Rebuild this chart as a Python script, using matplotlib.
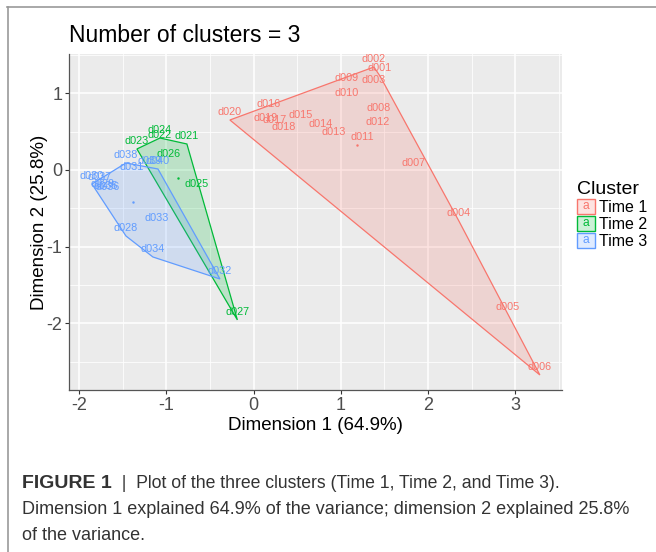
import numpy as np
import matplotlib
matplotlib.use('Agg')
from matplotlib import pyplot as plt
from matplotlib.legend_handler import HandlerBase
from matplotlib.lines import Line2D
from matplotlib.patches import Polygon, Rectangle
from matplotlib.text import Text

plt.rcParams['font.family'] = ['Liberation Sans', 'DejaVu Sans']

# cluster coordinates
time1_names = ['d001', 'd002', 'd003', 'd004', 'd005', 'd006', 'd007', 'd008', 'd009', 'd010',
               'd011', 'd012', 'd013', 'd014', 'd015', 'd016', 'd017', 'd018', 'd019', 'd020']
time1_x = [1.450, 1.381, 1.381, 2.355, 2.917, 3.284, 1.839, 1.438, 1.071, 1.071,
           1.243, 1.427, 0.922, 0.773, 0.544, 0.177, 0.245, 0.349, 0.142, -0.271]
time1_y = [1.226, 1.343, 1.070, -0.665, -1.891, -2.674, -0.013, 0.704, 1.096, 0.900,
           0.326, 0.522, 0.391, 0.496, 0.613, 0.756, 0.548, 0.456, 0.574, 0.652]

time2_names = ['d021', 'd022', 'd023', 'd024', 'd025', 'd026', 'd027']
time2_x = [-0.764, -1.073, -1.337, -1.073, -0.649, -0.970, -0.185]
time2_y = [0.339, 0.352, 0.274, 0.417, -0.287, 0.104, -1.956]

time3_names = ['d028', 'd029', 'd030', 'd031', 'd032', 'd033', 'd034',
               'd035', 'd036', 'd037', 'd038', 'd039', 'd040']
time3_x = [-1.463, -1.726, -1.853, -1.400, -0.385, -1.108, -1.154,
           -1.693, -1.670, -1.761, -1.463, -1.188, -1.096]
time3_y = [-0.861, -0.290, -0.183, -0.065, -1.422, -0.730, -1.135,
           -0.320, -0.330, -0.196, 0.091, 0.013, 0.013]

cluster_labels = ['Time 1', 'Time 2', 'Time 3']
cluster_colours = ['#F8766D', '#00BA38', '#619CFF']

x_ticks = [-2, -1, 0, 1, 2, 3]
y_ticks = [-2, -1, 0, 1]


def convex_hull(x, y):
    pts = sorted(set(zip(x, y)))

    def cross(o, a, b):
        return (a[0] - o[0]) * (b[1] - o[1]) - (a[1] - o[1]) * (b[0] - o[0])

    lower, upper = [], []
    for p in pts:
        while len(lower) >= 2 and cross(lower[-2], lower[-1], p) <= 0:
            lower.pop()
        lower.append(p)
    for p in reversed(pts):
        while len(upper) >= 2 and cross(upper[-2], upper[-1], p) <= 0:
            upper.pop()
        upper.append(p)
    return np.array(lower[:-1] + upper[:-1])


class LetterKey(HandlerBase):
    def create_artists(self, legend, orig_handle, xdescent, ydescent, width, height, fontsize, trans):
        colour = orig_handle.get_edgecolor()
        box = Rectangle((-xdescent, -ydescent), width, height, facecolor=orig_handle.get_facecolor(),
                        edgecolor=colour, linewidth=1.0, transform=trans)
        letter = Text(-xdescent + width / 2, -ydescent + height / 2, 'a', color=colour,
                      ha='center', va='center', fontsize=fontsize * 0.75, transform=trans)
        return [box, letter]


fig = plt.figure(figsize=(6.56, 5.52), dpi=100)
ax = fig.add_axes([0.1056, 0.2935, 0.751, 0.6087])
ax.set_facecolor('#EBEBEB')

clusters = [(time1_names, time1_x, time1_y), (time2_names, time2_x, time2_y), (time3_names, time3_x, time3_y)]
handles = []
for (names, xs, ys), colour, lab in zip(clusters, cluster_colours, cluster_labels):
    hull = convex_hull(xs, ys)
    ax.add_patch(Polygon(hull, closed=True, facecolor=matplotlib.colors.to_rgba(colour, 0.2),
                         edgecolor=colour, linewidth=0.9, zorder=2))
    ax.plot(np.mean(xs), np.mean(ys), marker='.', markersize=1.5, color=colour, zorder=3)
    for n, xv, yv in zip(names, xs, ys):
        ax.annotate(n, (xv, yv), xytext=(0, 6.0), textcoords='offset points', ha='center', va='center',
                    fontsize=7.8, color=colour, zorder=4)
    handles.append(Rectangle((0, 0), 1, 1, facecolor=matplotlib.colors.to_rgba(colour, 0.2), edgecolor=colour))

ax.set_xlim(-2.113, 3.537)
ax.set_ylim(-2.87, 1.513)
ax.set_xticks(x_ticks)
ax.set_yticks(y_ticks)
ax.set_xticklabels([str(t) for t in x_ticks])
ax.set_yticklabels([str(t) for t in y_ticks])
ax.set_xticks(np.arange(-1.5, 3.6, 1.0), minor=True)
ax.set_yticks(np.arange(-2.5, 1.6, 1.0), minor=True)
ax.grid(True, which='major', color='white', linewidth=1.1)
ax.grid(True, which='minor', color='white', linewidth=0.55)
ax.set_axisbelow(True)
ax.tick_params(which='major', length=3, color='#333333', labelsize=13, labelcolor='#4D4D4D', pad=2)
ax.tick_params(which='minor', length=0)
for side in ['top', 'right']:
    ax.spines[side].set_visible(False)
for side in ['left', 'bottom']:
    ax.spines[side].set_color('#555555')
    ax.spines[side].set_linewidth(0.9)

ax.set_xlabel('Dimension 1 (64.9%)', fontsize=13.5, labelpad=2)
ax.set_ylabel('Dimension 2 (25.8%)', fontsize=13.5, labelpad=-1)
fig.text(69 / 656, 1 - 36 / 552, 'Number of clusters = 3', fontsize=16.5, va='center', ha='left')

leg = ax.legend(handles, cluster_labels, handler_map={Rectangle: LetterKey()}, title='Cluster',
                loc='upper left', bbox_to_anchor=(577 / 656, 1 - 181 / 552), bbox_transform=fig.transFigure,
                frameon=False, fontsize=11.5, title_fontsize=14, handlelength=1.1, handleheight=1.1,
                labelspacing=0.05, handletextpad=0.25, borderpad=0, borderaxespad=0, alignment='left')

# outer frame of the figure panel
fig.add_artist(Line2D([8 / 656, 8 / 656], [0, 1 - 7 / 552], color='#999999', linewidth=1.2))
fig.add_artist(Line2D([7 / 656, 1], [1 - 7 / 552, 1 - 7 / 552], color='#999999', linewidth=1.2))

# caption
cap_size = 13
bold = fig.text(22 / 656, 1 - 484 / 552, 'FIGURE 1', fontsize=14, fontweight='bold',
                color='#333333', va='center', ha='left')
fig.add_artist(matplotlib.text.Annotation('  |  Plot of the three clusters (Time 1, Time 2, and Time 3).',
                                          xy=(1, 0.5), xycoords=bold, va='center', ha='left',
                                          fontsize=12.7, color='#333333'))
fig.text(22 / 656, 1 - 510 / 552, 'Dimension 1 explained 64.9% of the variance; dimension 2 explained 25.8%',
         fontsize=cap_size, color='#333333', va='center', ha='left')
fig.text(22 / 656, 1 - 535 / 552, 'of the variance.', fontsize=cap_size, color='#333333', va='center', ha='left')

fig.savefig('out.png', dpi=100)
